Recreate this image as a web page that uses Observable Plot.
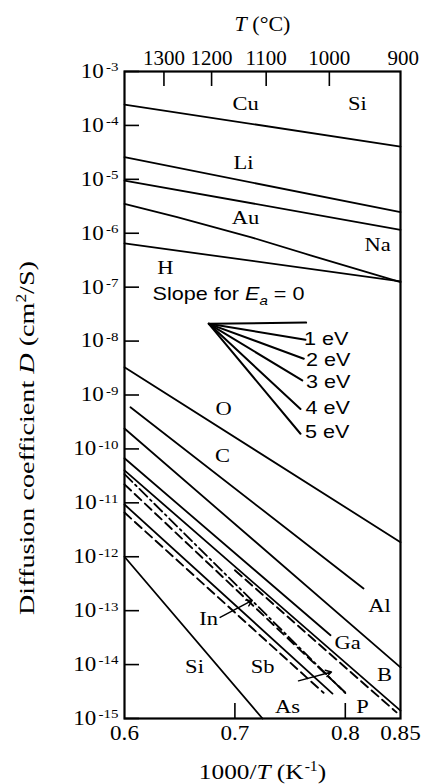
<!DOCTYPE html>
<html><head><meta charset="utf-8">
<script src="https://cdn.jsdelivr.net/npm/d3@7"></script>
<script src="https://cdn.jsdelivr.net/npm/@observablehq/plot@0.6"></script>
<style>body{margin:0;background:#fff} svg{display:block}</style>
</head><body><div id="chart"></div>
<script>
// ---------- data ----------
const yTicks = [1e-3,1e-4,1e-5,1e-6,1e-7,1e-8,1e-9,1e-10,1e-11,1e-12,1e-13,1e-14,1e-15];
const xTicks = [0.6, 0.7, 0.8, 0.85];
const xInnerTicks = [0.7, 0.8];
const tempLabels = [1300, 1200, 1100, 1000, 900];
const tempTicks = [1300, 1200, 1100, 1000];

// interstitial / fast diffusers  [1000/T, D]
const Cu = [[0.6, 2.44e-4], [0.85, 4.06e-5]];
const Li = [[0.6, 2.58e-5], [0.85, 2.46e-6]];
const Na = [[0.6, 9.5e-6], [0.85, 1.16e-6]];
const Au = [[0.6, 3.5e-6], [0.6477, 1.99e-6], [0.7141, 8.5e-7], [0.7685, 3.9e-7], [0.85, 1.24e-7]];
const H  = [[0.6, 6.5e-7], [0.85, 1.28e-7]];
const O  = [[0.6, 3.28e-9], [0.85, 1.86e-12]];
const C  = [[0.6054, 5.94e-10], [0.8165, 2.58e-13]];
// substitutional diffusers
const Al = [[0.6, 2.39e-10], [0.85, 8.9e-15]];
const Ga = [[0.6, 6.7e-11], [0.7866, 3.5e-14]];
const B  = [[0.6, 4.0e-11], [0.85, 1.4e-15]];
const Bd = [[0.70, 5.6e-13], [0.8464, 1.3e-15]];
const P  = [[0.6, 3.4e-11], [0.802, 2.7e-15]];
const In = [[0.6, 2.2e-11], [0.8002, 3.0e-15]];
const Sb = [[0.6, 9.3e-12], [0.7884, 2.9e-15]];
const As = [[0.6, 6.6e-12], [0.7803, 3.0e-15]];
const Si = [[0.6, 1.0e-12], [0.725, 1.0e-15]];

// activation-energy slope fan
const fanApex = [0.6764, 2.09e-8];
const fanNames = ["0 eV", "1 eV", "2 eV", "3 eV", "4 eV", "5 eV"];
const fanEnds = [[0.7645, 2.2e-8], [0.7639, 1.06e-8], [0.7624, 4.7e-9], [0.7610, 1.86e-9], [0.7594, 5.5e-10], [0.7594, 1.91e-10]];

// label positions [1000/T, D, text]
const elementLabels = [
  [0.7096, 2.44e-4, "Cu"], [0.811, 2.44e-4, "Si"], [0.7078, 1.97e-5, "Li"],
  [0.7096, 1.88e-6, "Au"], [0.8292, 5.93e-7, "Na"], [0.6371, 2.22e-7, "H"],
  [0.6897, 5.38e-10, "O"], [0.6888, 7.24e-11, "C"], [0.831, 1.2e-13, "Al"],
  [0.802, 2.47e-14, "Ga"], [0.8355, 6.28e-15, "B"], [0.6761, 6.87e-14, "In"],
  [0.6634, 8.85e-15, "Si"], [0.725, 8.85e-15, "Sb"], [0.7476, 1.6e-15, "As"],
  [0.8156, 1.6e-15, "P"]
];
const eVLabels = [
  [0.7625, 1.1e-8, "1 eV"], [0.7645, 4.37e-9, "2 eV"], [0.7645, 1.75e-9, "3 eV"],
  [0.7640, 5.62e-10, "4 eV"], [0.7635, 2.0e-10, "5 eV"]
];
const slopeLabel = [[0.6254, 7.31e-8, "Slope for Ea = 0"]];
const arrows = [
  {x1: 0.6866, y1: 7.5e-14, x2: 0.7157, y2: 1.55e-13},
  {x1: 0.7576, y1: 4.98e-15, x2: 0.7875, y2: 7.3e-15}
];

// ---------- build ----------
const W = 427, Ht = 784, mL = 124, mR = 27, mT = 71, mB = 66;
const fw = W - mL - mR, fh = Ht - mT - mB, tick = 15;
const toX = t => 1000 / (t + 273);
const rows = (name, pts) => pts.map(([x, D]) => ({name, x, D}));
const solid = [["Cu",Cu],["Li",Li],["Na",Na],["Au",Au],["H",H],["O",O],["C",C],
  ["Al",Al],["Ga",Ga],["B",B],["Sb",Sb],["Si",Si]].flatMap(([n,p]) => rows(n,p));
const dashed = [["In",In],["As",As],["Bd",Bd]].flatMap(([n,p]) => rows(n,p));
const dashdot = rows("P", P);
const fan = fanNames.flatMap((n, i) => rows(n, [fanApex, fanEnds[i]]));
const lab = a => a.map(([x, D, text]) => ({x, D, text}));
const fmtPow = d => "10^" + Math.round(Math.log10(d));
const sans = "'Liberation Sans', sans-serif";
const yLabel = "Diffusion coefficient D (cm²/S)";
const xLabel = "1000/T (K⁻¹)";
const tLabel = "T (°C)";

const chart = Plot.plot({
  width: W, height: Ht, marginLeft: mL, marginRight: mR, marginTop: mT, marginBottom: mB,
  style: {fontFamily: "'Liberation Serif', serif", fontSize: "20px", background: "white", color: "black"},
  x: {domain: [0.6, 0.85], axis: null, label: null},
  y: {type: "log", domain: [1e-15, 1e-3], axis: null, label: null},
  marks: [
    Plot.line(solid, {x: "x", y: "D", z: "name", stroke: "black", strokeWidth: 1.8}),
    Plot.line(dashed, {x: "x", y: "D", z: "name", stroke: "black", strokeWidth: 1.9, strokeDasharray: "9,5"}),
    Plot.line(dashdot, {x: "x", y: "D", z: "name", stroke: "black", strokeWidth: 1.8, strokeDasharray: "11,4,2,4"}),
    Plot.line(fan, {x: "x", y: "D", z: "name", stroke: "black", strokeWidth: 2}),
    Plot.arrow(arrows, {x1: "x1", y1: "y1", x2: "x2", y2: "y2", stroke: "black", strokeWidth: 1.4, headLength: 7}),
    Plot.tickY(yTicks, {y: d => d, insetRight: fw - tick, stroke: "black", strokeWidth: 1.6}),
    Plot.tickX(xInnerTicks, {x: d => d, insetTop: fh - tick, stroke: "black", strokeWidth: 1.6}),
    Plot.tickX(tempTicks, {x: toX, insetBottom: fh - tick, stroke: "black", strokeWidth: 1.6}),
    Plot.frame({stroke: "black", strokeWidth: 2.2}),
    Plot.axisY(yTicks, {tickSize: 0, tickPadding: 6, tickFormat: fmtPow, label: null, fontSize: 20}),
    Plot.axisX(xTicks, {tickSize: 0, tickPadding: 7, tickFormat: d => String(d), label: null, fontSize: 21}),
    Plot.text(tempLabels, {x: toX, frameAnchor: "top", lineAnchor: "middle", dy: -13, text: d => String(d), fontSize: 20}),
    Plot.text(lab(elementLabels), {x: "x", y: "D", text: "text", fontSize: 18}),
    Plot.text(lab(eVLabels), {x: "x", y: "D", text: "text", textAnchor: "start", fontSize: 18, fontFamily: sans}),
    Plot.text(lab(slopeLabel), {x: "x", y: "D", text: "text", textAnchor: "start", fontSize: 18, fontFamily: sans}),
    Plot.text([tLabel], {text: d => d, frameAnchor: "top", lineAnchor: "middle", dy: -48, fontSize: 22}),
    Plot.text([xLabel], {text: d => d, frameAnchor: "bottom", lineAnchor: "middle", dy: 53, fontSize: 22}),
    Plot.text([yLabel], {text: d => d, frameAnchor: "left", lineAnchor: "middle", textAnchor: "middle", dx: -98, dy: 43, rotate: -90, fontSize: 22})
  ]
});
document.getElementById("chart").appendChild(chart);

// horizontal stretch of glyphs to match the wide typeface of the reference
const svg = d3.select(chart);
const xTickStr = new Set(xTicks.map(String));
const tempStr = new Set(tempLabels.map(String));
const sansStr = new Set([...eVLabels.map(d => d[2]), slopeLabel[0][2]]);
function stretchOf(t) {
  if (t === tLabel) return 1.0;
  if (t === xLabel) return 1.15;
  if (t === yLabel) return 1.28;
  if (xTickStr.has(t)) return 1.1;
  if (tempStr.has(t)) return 1.05;
  if (sansStr.has(t)) return 1.2;
  if (t.startsWith("10^")) return 1.15;
  return 1.25;
}
svg.selectAll("text").each(function () {
  const s = stretchOf(this.textContent);
  if (s === 1) return;
  let tr = this.getAttribute("transform");
  if (!tr) {
    const x = +this.getAttribute("x") || 0, y = +this.getAttribute("y") || 0;
    this.removeAttribute("x"); this.removeAttribute("y");
    tr = `translate(${x},${y})`;
  }
  this.setAttribute("transform", `${tr} scale(${s},1)`);
});

// rich text (italics, sub/superscripts)
const rich = {
  [tLabel]: [["T", {"font-style": "italic"}], [" (°C)", {}]],
  [xLabel]: [["1000/", {}], ["T", {"font-style": "italic"}], [" (K", {}], ["-1", {"font-size": "0.62em", "dy": "-0.55em", "dx": "1"}], [")", {"dy": "0.34em"}]],
  [yLabel]: [["Diffusion coefficient ", {}], ["D", {"font-style": "italic"}], [" (cm", {}], ["2", {"font-size": "0.62em", "dy": "-0.55em"}], ["/S)", {"dy": "0.34em"}]],
  "Slope for Ea = 0": [["Slope for ", {}], ["E", {"font-style": "italic"}], ["a", {"font-style": "italic", "font-size": "0.7em", "dy": "0.35em"}], [" = 0", {"dy": "-0.25em"}]]
};
svg.selectAll("text").each(function () {
  const t = this.textContent;
  const s = d3.select(this);
  let spec = rich[t];
  if (!spec && /^10\^-?\d+$/.test(t)) {
    spec = [["10", {}], [t.slice(3), {"font-size": "0.65em", "dy": "-0.5em", "dx": "2"}]];
  }
  if (!spec) return;
  s.text(null);
  spec.forEach(([str, attrs]) => {
    const ts = s.append("tspan").text(str);
    for (const k in attrs) ts.attr(k, attrs[k]);
  });
});
</script>
</body></html>
